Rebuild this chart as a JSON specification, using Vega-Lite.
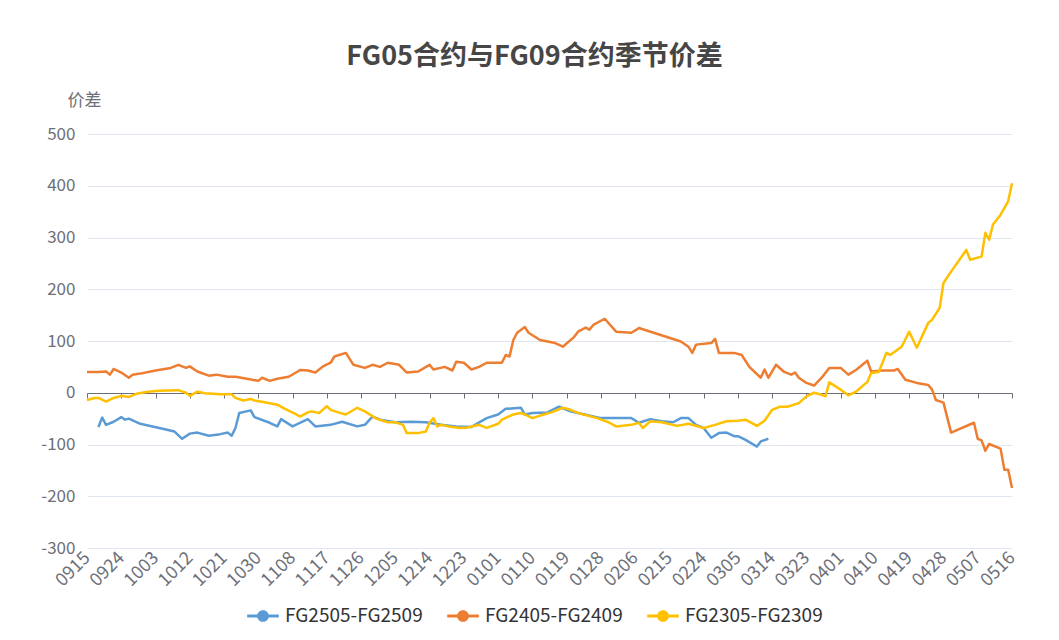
{
  "$schema": "https://vega.github.io/schema/vega-lite/v6.json",
  "width": 925,
  "height": 414,
  "autosize": {"type": "none"},
  "padding": {"left": 87, "top": 134, "right": 47, "bottom": 92},
  "background": "white",
  "config": {"font": "Noto Sans CJK SC", "view": {"stroke": null}},
  "title": {"text": "FG05合约与FG09合约季节价差", "anchor": "middle", "frame": "group", "dx": -15, "fontSize": 27, "fontWeight": "bold", "color": "#464646", "offset": 20},
  "data": {"values": [
    {"d":"2022-09-18","s":"FG2505-FG2509","v":-66},{"d":"2022-09-19","s":"FG2505-FG2509","v":-48},{"d":"2022-09-20","s":"FG2505-FG2509","v":-62},{"d":"2022-09-22","s":"FG2505-FG2509","v":-56},{"d":"2022-09-24","s":"FG2505-FG2509","v":-47},{"d":"2022-09-25","s":"FG2505-FG2509","v":-52},{"d":"2022-09-26","s":"FG2505-FG2509","v":-50},{"d":"2022-09-29","s":"FG2505-FG2509","v":-60},{"d":"2022-10-04","s":"FG2505-FG2509","v":-68},{"d":"2022-10-08","s":"FG2505-FG2509","v":-75},{"d":"2022-10-10","s":"FG2505-FG2509","v":-89},{"d":"2022-10-12","s":"FG2505-FG2509","v":-79},{"d":"2022-10-14","s":"FG2505-FG2509","v":-77},{"d":"2022-10-17","s":"FG2505-FG2509","v":-83},{"d":"2022-10-20","s":"FG2505-FG2509","v":-80},{"d":"2022-10-22","s":"FG2505-FG2509","v":-77},{"d":"2022-10-23","s":"FG2505-FG2509","v":-83},{"d":"2022-10-24","s":"FG2505-FG2509","v":-68},{"d":"2022-10-25","s":"FG2505-FG2509","v":-39},{"d":"2022-10-28","s":"FG2505-FG2509","v":-34},{"d":"2022-10-29","s":"FG2505-FG2509","v":-47},{"d":"2022-11-02","s":"FG2505-FG2509","v":-58},{"d":"2022-11-04","s":"FG2505-FG2509","v":-65},{"d":"2022-11-05","s":"FG2505-FG2509","v":-51},{"d":"2022-11-08","s":"FG2505-FG2509","v":-65},{"d":"2022-11-12","s":"FG2505-FG2509","v":-51},{"d":"2022-11-14","s":"FG2505-FG2509","v":-65},{"d":"2022-11-18","s":"FG2505-FG2509","v":-62},{"d":"2022-11-21","s":"FG2505-FG2509","v":-56},{"d":"2022-11-25","s":"FG2505-FG2509","v":-65},{"d":"2022-11-27","s":"FG2505-FG2509","v":-62},{"d":"2022-11-29","s":"FG2505-FG2509","v":-46},{"d":"2022-12-01","s":"FG2505-FG2509","v":-52},{"d":"2022-12-05","s":"FG2505-FG2509","v":-57},{"d":"2022-12-09","s":"FG2505-FG2509","v":-56},{"d":"2022-12-13","s":"FG2505-FG2509","v":-57},{"d":"2022-12-17","s":"FG2505-FG2509","v":-62},{"d":"2022-12-21","s":"FG2505-FG2509","v":-65},{"d":"2022-12-25","s":"FG2505-FG2509","v":-66},{"d":"2022-12-29","s":"FG2505-FG2509","v":-49},{"d":"2023-01-01","s":"FG2505-FG2509","v":-42},{"d":"2023-01-03","s":"FG2505-FG2509","v":-31},{"d":"2023-01-07","s":"FG2505-FG2509","v":-29},{"d":"2023-01-08","s":"FG2505-FG2509","v":-42},{"d":"2023-01-10","s":"FG2505-FG2509","v":-39},{"d":"2023-01-14","s":"FG2505-FG2509","v":-38},{"d":"2023-01-17","s":"FG2505-FG2509","v":-27},{"d":"2023-01-20","s":"FG2505-FG2509","v":-36},{"d":"2023-01-22","s":"FG2505-FG2509","v":-39},{"d":"2023-01-28","s":"FG2505-FG2509","v":-49},{"d":"2023-02-05","s":"FG2505-FG2509","v":-49},{"d":"2023-02-07","s":"FG2505-FG2509","v":-58},{"d":"2023-02-10","s":"FG2505-FG2509","v":-51},{"d":"2023-02-13","s":"FG2505-FG2509","v":-55},{"d":"2023-02-16","s":"FG2505-FG2509","v":-57},{"d":"2023-02-18","s":"FG2505-FG2509","v":-49},{"d":"2023-02-20","s":"FG2505-FG2509","v":-49},{"d":"2023-02-22","s":"FG2505-FG2509","v":-62},{"d":"2023-02-24","s":"FG2505-FG2509","v":-68},{"d":"2023-02-26","s":"FG2505-FG2509","v":-87},{"d":"2023-02-28","s":"FG2505-FG2509","v":-78},{"d":"2023-03-02","s":"FG2505-FG2509","v":-77},{"d":"2023-03-04","s":"FG2505-FG2509","v":-84},{"d":"2023-03-05","s":"FG2505-FG2509","v":-84},{"d":"2023-03-07","s":"FG2505-FG2509","v":-91},{"d":"2023-03-10","s":"FG2505-FG2509","v":-104},{"d":"2023-03-11","s":"FG2505-FG2509","v":-94},{"d":"2023-03-13","s":"FG2505-FG2509","v":-89},
    {"d":"2022-09-15","s":"FG2405-FG2409","v":40},{"d":"2022-09-18","s":"FG2405-FG2409","v":40},{"d":"2022-09-20","s":"FG2405-FG2409","v":41},{"d":"2022-09-21","s":"FG2405-FG2409","v":35},{"d":"2022-09-22","s":"FG2405-FG2409","v":46},{"d":"2022-09-24","s":"FG2405-FG2409","v":39},{"d":"2022-09-26","s":"FG2405-FG2409","v":29},{"d":"2022-09-27","s":"FG2405-FG2409","v":35},{"d":"2022-09-29","s":"FG2405-FG2409","v":37},{"d":"2022-10-03","s":"FG2405-FG2409","v":43},{"d":"2022-10-07","s":"FG2405-FG2409","v":48},{"d":"2022-10-09","s":"FG2405-FG2409","v":54},{"d":"2022-10-11","s":"FG2405-FG2409","v":48},{"d":"2022-10-12","s":"FG2405-FG2409","v":51},{"d":"2022-10-14","s":"FG2405-FG2409","v":41},{"d":"2022-10-17","s":"FG2405-FG2409","v":33},{"d":"2022-10-19","s":"FG2405-FG2409","v":35},{"d":"2022-10-22","s":"FG2405-FG2409","v":31},{"d":"2022-10-24","s":"FG2405-FG2409","v":31},{"d":"2022-10-27","s":"FG2405-FG2409","v":27},{"d":"2022-10-30","s":"FG2405-FG2409","v":23},{"d":"2022-10-31","s":"FG2405-FG2409","v":29},{"d":"2022-11-02","s":"FG2405-FG2409","v":23},{"d":"2022-11-04","s":"FG2405-FG2409","v":27},{"d":"2022-11-07","s":"FG2405-FG2409","v":31},{"d":"2022-11-10","s":"FG2405-FG2409","v":44},{"d":"2022-11-12","s":"FG2405-FG2409","v":43},{"d":"2022-11-14","s":"FG2405-FG2409","v":39},{"d":"2022-11-16","s":"FG2405-FG2409","v":51},{"d":"2022-11-18","s":"FG2405-FG2409","v":58},{"d":"2022-11-19","s":"FG2405-FG2409","v":70},{"d":"2022-11-22","s":"FG2405-FG2409","v":77},{"d":"2022-11-24","s":"FG2405-FG2409","v":54},{"d":"2022-11-27","s":"FG2405-FG2409","v":48},{"d":"2022-11-29","s":"FG2405-FG2409","v":54},{"d":"2022-12-01","s":"FG2405-FG2409","v":50},{"d":"2022-12-03","s":"FG2405-FG2409","v":58},{"d":"2022-12-06","s":"FG2405-FG2409","v":54},{"d":"2022-12-08","s":"FG2405-FG2409","v":39},{"d":"2022-12-11","s":"FG2405-FG2409","v":41},{"d":"2022-12-14","s":"FG2405-FG2409","v":54},{"d":"2022-12-15","s":"FG2405-FG2409","v":45},{"d":"2022-12-18","s":"FG2405-FG2409","v":50},{"d":"2022-12-20","s":"FG2405-FG2409","v":43},{"d":"2022-12-21","s":"FG2405-FG2409","v":60},{"d":"2022-12-23","s":"FG2405-FG2409","v":58},{"d":"2022-12-25","s":"FG2405-FG2409","v":45},{"d":"2022-12-27","s":"FG2405-FG2409","v":50},{"d":"2022-12-29","s":"FG2405-FG2409","v":58},{"d":"2023-01-02","s":"FG2405-FG2409","v":58},{"d":"2023-01-03","s":"FG2405-FG2409","v":73},{"d":"2023-01-04","s":"FG2405-FG2409","v":70},{"d":"2023-01-05","s":"FG2405-FG2409","v":102},{"d":"2023-01-06","s":"FG2405-FG2409","v":116},{"d":"2023-01-08","s":"FG2405-FG2409","v":127},{"d":"2023-01-09","s":"FG2405-FG2409","v":116},{"d":"2023-01-12","s":"FG2405-FG2409","v":102},{"d":"2023-01-16","s":"FG2405-FG2409","v":96},{"d":"2023-01-18","s":"FG2405-FG2409","v":89},{"d":"2023-01-21","s":"FG2405-FG2409","v":108},{"d":"2023-01-22","s":"FG2405-FG2409","v":118},{"d":"2023-01-24","s":"FG2405-FG2409","v":126},{"d":"2023-01-25","s":"FG2405-FG2409","v":122},{"d":"2023-01-26","s":"FG2405-FG2409","v":131},{"d":"2023-01-29","s":"FG2405-FG2409","v":143},{"d":"2023-02-01","s":"FG2405-FG2409","v":118},{"d":"2023-02-05","s":"FG2405-FG2409","v":116},{"d":"2023-02-07","s":"FG2405-FG2409","v":125},{"d":"2023-02-18","s":"FG2405-FG2409","v":99},{"d":"2023-02-20","s":"FG2405-FG2409","v":89},{"d":"2023-02-21","s":"FG2405-FG2409","v":77},{"d":"2023-02-22","s":"FG2405-FG2409","v":93},{"d":"2023-02-26","s":"FG2405-FG2409","v":96},{"d":"2023-02-27","s":"FG2405-FG2409","v":104},{"d":"2023-02-28","s":"FG2405-FG2409","v":77},{"d":"2023-03-04","s":"FG2405-FG2409","v":77},{"d":"2023-03-06","s":"FG2405-FG2409","v":73},{"d":"2023-03-08","s":"FG2405-FG2409","v":50},{"d":"2023-03-11","s":"FG2405-FG2409","v":29},{"d":"2023-03-12","s":"FG2405-FG2409","v":45},{"d":"2023-03-13","s":"FG2405-FG2409","v":29},{"d":"2023-03-15","s":"FG2405-FG2409","v":54},{"d":"2023-03-17","s":"FG2405-FG2409","v":41},{"d":"2023-03-19","s":"FG2405-FG2409","v":35},{"d":"2023-03-20","s":"FG2405-FG2409","v":39},{"d":"2023-03-21","s":"FG2405-FG2409","v":29},{"d":"2023-03-23","s":"FG2405-FG2409","v":19},{"d":"2023-03-25","s":"FG2405-FG2409","v":14},{"d":"2023-03-27","s":"FG2405-FG2409","v":29},{"d":"2023-03-29","s":"FG2405-FG2409","v":48},{"d":"2023-04-01","s":"FG2405-FG2409","v":48},{"d":"2023-04-03","s":"FG2405-FG2409","v":35},{"d":"2023-04-05","s":"FG2405-FG2409","v":44},{"d":"2023-04-08","s":"FG2405-FG2409","v":62},{"d":"2023-04-09","s":"FG2405-FG2409","v":41},{"d":"2023-04-12","s":"FG2405-FG2409","v":43},{"d":"2023-04-15","s":"FG2405-FG2409","v":43},{"d":"2023-04-16","s":"FG2405-FG2409","v":46},{"d":"2023-04-18","s":"FG2405-FG2409","v":25},{"d":"2023-04-21","s":"FG2405-FG2409","v":19},{"d":"2023-04-24","s":"FG2405-FG2409","v":15},{"d":"2023-04-25","s":"FG2405-FG2409","v":6},{"d":"2023-04-26","s":"FG2405-FG2409","v":-14},{"d":"2023-04-28","s":"FG2405-FG2409","v":-19},{"d":"2023-04-30","s":"FG2405-FG2409","v":-77},{"d":"2023-05-06","s":"FG2405-FG2409","v":-58},{"d":"2023-05-07","s":"FG2405-FG2409","v":-89},{"d":"2023-05-08","s":"FG2405-FG2409","v":-92},{"d":"2023-05-09","s":"FG2405-FG2409","v":-112},{"d":"2023-05-10","s":"FG2405-FG2409","v":-99},{"d":"2023-05-13","s":"FG2405-FG2409","v":-108},{"d":"2023-05-14","s":"FG2405-FG2409","v":-149},{"d":"2023-05-15","s":"FG2405-FG2409","v":-149},{"d":"2023-05-16","s":"FG2405-FG2409","v":-184},
    {"d":"2022-09-15","s":"FG2305-FG2309","v":-14},{"d":"2022-09-17","s":"FG2305-FG2309","v":-10},{"d":"2022-09-18","s":"FG2305-FG2309","v":-10},{"d":"2022-09-20","s":"FG2305-FG2309","v":-17},{"d":"2022-09-22","s":"FG2305-FG2309","v":-10},{"d":"2022-09-24","s":"FG2305-FG2309","v":-6},{"d":"2022-09-26","s":"FG2305-FG2309","v":-8},{"d":"2022-09-28","s":"FG2305-FG2309","v":-2},{"d":"2022-10-01","s":"FG2305-FG2309","v":2},{"d":"2022-10-04","s":"FG2305-FG2309","v":4},{"d":"2022-10-09","s":"FG2305-FG2309","v":5},{"d":"2022-10-11","s":"FG2305-FG2309","v":0},{"d":"2022-10-12","s":"FG2305-FG2309","v":-6},{"d":"2022-10-14","s":"FG2305-FG2309","v":2},{"d":"2022-10-16","s":"FG2305-FG2309","v":-1},{"d":"2022-10-20","s":"FG2305-FG2309","v":-3},{"d":"2022-10-23","s":"FG2305-FG2309","v":-3},{"d":"2022-10-24","s":"FG2305-FG2309","v":-10},{"d":"2022-10-26","s":"FG2305-FG2309","v":-15},{"d":"2022-10-28","s":"FG2305-FG2309","v":-12},{"d":"2022-10-29","s":"FG2305-FG2309","v":-15},{"d":"2022-11-01","s":"FG2305-FG2309","v":-19},{"d":"2022-11-04","s":"FG2305-FG2309","v":-23},{"d":"2022-11-06","s":"FG2305-FG2309","v":-31},{"d":"2022-11-09","s":"FG2305-FG2309","v":-42},{"d":"2022-11-10","s":"FG2305-FG2309","v":-46},{"d":"2022-11-12","s":"FG2305-FG2309","v":-38},{"d":"2022-11-13","s":"FG2305-FG2309","v":-36},{"d":"2022-11-15","s":"FG2305-FG2309","v":-39},{"d":"2022-11-17","s":"FG2305-FG2309","v":-26},{"d":"2022-11-18","s":"FG2305-FG2309","v":-33},{"d":"2022-11-20","s":"FG2305-FG2309","v":-38},{"d":"2022-11-22","s":"FG2305-FG2309","v":-42},{"d":"2022-11-25","s":"FG2305-FG2309","v":-29},{"d":"2022-11-27","s":"FG2305-FG2309","v":-36},{"d":"2022-11-30","s":"FG2305-FG2309","v":-50},{"d":"2022-12-03","s":"FG2305-FG2309","v":-57},{"d":"2022-12-05","s":"FG2305-FG2309","v":-57},{"d":"2022-12-07","s":"FG2305-FG2309","v":-62},{"d":"2022-12-08","s":"FG2305-FG2309","v":-78},{"d":"2022-12-11","s":"FG2305-FG2309","v":-78},{"d":"2022-12-13","s":"FG2305-FG2309","v":-75},{"d":"2022-12-14","s":"FG2305-FG2309","v":-58},{"d":"2022-12-15","s":"FG2305-FG2309","v":-49},{"d":"2022-12-16","s":"FG2305-FG2309","v":-65},{"d":"2022-12-17","s":"FG2305-FG2309","v":-62},{"d":"2022-12-19","s":"FG2305-FG2309","v":-65},{"d":"2022-12-22","s":"FG2305-FG2309","v":-68},{"d":"2022-12-24","s":"FG2305-FG2309","v":-67},{"d":"2022-12-27","s":"FG2305-FG2309","v":-62},{"d":"2022-12-29","s":"FG2305-FG2309","v":-68},{"d":"2023-01-01","s":"FG2305-FG2309","v":-60},{"d":"2023-01-02","s":"FG2305-FG2309","v":-52},{"d":"2023-01-05","s":"FG2305-FG2309","v":-42},{"d":"2023-01-07","s":"FG2305-FG2309","v":-39},{"d":"2023-01-08","s":"FG2305-FG2309","v":-42},{"d":"2023-01-10","s":"FG2305-FG2309","v":-49},{"d":"2023-01-13","s":"FG2305-FG2309","v":-42},{"d":"2023-01-15","s":"FG2305-FG2309","v":-38},{"d":"2023-01-18","s":"FG2305-FG2309","v":-29},{"d":"2023-01-20","s":"FG2305-FG2309","v":-33},{"d":"2023-01-22","s":"FG2305-FG2309","v":-39},{"d":"2023-01-27","s":"FG2305-FG2309","v":-49},{"d":"2023-01-30","s":"FG2305-FG2309","v":-57},{"d":"2023-02-01","s":"FG2305-FG2309","v":-65},{"d":"2023-02-05","s":"FG2305-FG2309","v":-62},{"d":"2023-02-07","s":"FG2305-FG2309","v":-58},{"d":"2023-02-08","s":"FG2305-FG2309","v":-68},{"d":"2023-02-10","s":"FG2305-FG2309","v":-55},{"d":"2023-02-13","s":"FG2305-FG2309","v":-57},{"d":"2023-02-17","s":"FG2305-FG2309","v":-64},{"d":"2023-02-20","s":"FG2305-FG2309","v":-60},{"d":"2023-02-24","s":"FG2305-FG2309","v":-68},{"d":"2023-02-27","s":"FG2305-FG2309","v":-62},{"d":"2023-03-02","s":"FG2305-FG2309","v":-55},{"d":"2023-03-05","s":"FG2305-FG2309","v":-54},{"d":"2023-03-07","s":"FG2305-FG2309","v":-52},{"d":"2023-03-10","s":"FG2305-FG2309","v":-64},{"d":"2023-03-12","s":"FG2305-FG2309","v":-54},{"d":"2023-03-14","s":"FG2305-FG2309","v":-33},{"d":"2023-03-16","s":"FG2305-FG2309","v":-27},{"d":"2023-03-18","s":"FG2305-FG2309","v":-27},{"d":"2023-03-21","s":"FG2305-FG2309","v":-20},{"d":"2023-03-23","s":"FG2305-FG2309","v":-7},{"d":"2023-03-25","s":"FG2305-FG2309","v":0},{"d":"2023-03-27","s":"FG2305-FG2309","v":-4},{"d":"2023-03-28","s":"FG2305-FG2309","v":-7},{"d":"2023-03-29","s":"FG2305-FG2309","v":20},{"d":"2023-04-01","s":"FG2305-FG2309","v":6},{"d":"2023-04-03","s":"FG2305-FG2309","v":-5},{"d":"2023-04-05","s":"FG2305-FG2309","v":2},{"d":"2023-04-08","s":"FG2305-FG2309","v":21},{"d":"2023-04-09","s":"FG2305-FG2309","v":38},{"d":"2023-04-11","s":"FG2305-FG2309","v":40},{"d":"2023-04-13","s":"FG2305-FG2309","v":77},{"d":"2023-04-14","s":"FG2305-FG2309","v":73},{"d":"2023-04-17","s":"FG2305-FG2309","v":89},{"d":"2023-04-19","s":"FG2305-FG2309","v":118},{"d":"2023-04-21","s":"FG2305-FG2309","v":87},{"d":"2023-04-24","s":"FG2305-FG2309","v":135},{"d":"2023-04-25","s":"FG2305-FG2309","v":141},{"d":"2023-04-27","s":"FG2305-FG2309","v":164},{"d":"2023-04-28","s":"FG2305-FG2309","v":212},{"d":"2023-04-30","s":"FG2305-FG2309","v":234},{"d":"2023-05-04","s":"FG2305-FG2309","v":276},{"d":"2023-05-05","s":"FG2305-FG2309","v":257},{"d":"2023-05-08","s":"FG2305-FG2309","v":263},{"d":"2023-05-09","s":"FG2305-FG2309","v":309},{"d":"2023-05-10","s":"FG2305-FG2309","v":296},{"d":"2023-05-11","s":"FG2305-FG2309","v":325},{"d":"2023-05-13","s":"FG2305-FG2309","v":344},{"d":"2023-05-15","s":"FG2305-FG2309","v":370},{"d":"2023-05-16","s":"FG2305-FG2309","v":405}
  ]},
  "mark": {"type": "line", "strokeWidth": 2.5, "interpolate": "linear", "strokeJoin": "round"},
  "encoding": {
    "x": {"field": "d", "type": "temporal",
      "scale": {"type": "utc", "domain": [{"year": 2022, "month": 9, "date": 15, "utc": true}, {"year": 2023, "month": 5, "date": 16, "utc": true}]},
      "axis": {"title": null, "grid": false, "labelExpr": "utcFormat(datum.value, '%m%d')",
        "values": [
          {"year":2022,"month":9,"date":15,"utc":true},{"year":2022,"month":9,"date":24,"utc":true},{"year":2022,"month":10,"date":3,"utc":true},{"year":2022,"month":10,"date":12,"utc":true},{"year":2022,"month":10,"date":21,"utc":true},{"year":2022,"month":10,"date":30,"utc":true},{"year":2022,"month":11,"date":8,"utc":true},{"year":2022,"month":11,"date":17,"utc":true},{"year":2022,"month":11,"date":26,"utc":true},{"year":2022,"month":12,"date":5,"utc":true},{"year":2022,"month":12,"date":14,"utc":true},{"year":2022,"month":12,"date":23,"utc":true},{"year":2023,"month":1,"date":1,"utc":true},{"year":2023,"month":1,"date":10,"utc":true},{"year":2023,"month":1,"date":19,"utc":true},{"year":2023,"month":1,"date":28,"utc":true},{"year":2023,"month":2,"date":6,"utc":true},{"year":2023,"month":2,"date":15,"utc":true},{"year":2023,"month":2,"date":24,"utc":true},{"year":2023,"month":3,"date":5,"utc":true},{"year":2023,"month":3,"date":14,"utc":true},{"year":2023,"month":3,"date":23,"utc":true},{"year":2023,"month":4,"date":1,"utc":true},{"year":2023,"month":4,"date":10,"utc":true},{"year":2023,"month":4,"date":19,"utc":true},{"year":2023,"month":4,"date":28,"utc":true},{"year":2023,"month":5,"date":7,"utc":true},{"year":2023,"month":5,"date":16,"utc":true}
        ],
        "offset": -155, "domainColor": "#6E7079", "domainWidth": 1, "tickColor": "#6E7079", "tickSize": 5,
        "labelAngle": -45, "labelAlign": "right", "labelBaseline": "middle", "labelPadding": 157,
        "labelFontSize": 18, "labelColor": "#6E7079", "labelOverlap": false, "labelBound": false, "labelFlush": false}
    },
    "y": {"field": "v", "type": "quantitative",
      "scale": {"domain": [-300, 500], "nice": false, "zero": false},
      "axis": {"title": "价差", "titleAngle": 0, "titleAlign": "left", "titleBaseline": "middle", "titleX": -20, "titleY": -34,
        "titleFontSize": 17, "titleFontWeight": "normal", "titleColor": "#6E7079",
        "values": [-300, -200, -100, 0, 100, 200, 300, 400, 500], "labelExpr": "datum.value + ''",
        "labelFontSize": 17, "labelColor": "#6E7079", "labelPadding": 12, "domain": false, "ticks": false, "gridColor": "#E0E6F1", "gridWidth": 1}
    },
    "color": {"field": "s", "type": "nominal",
      "scale": {"domain": ["FG2505-FG2509", "FG2405-FG2409", "FG2305-FG2309"], "range": ["#5B9BD5", "#ED7D31", "#FFC000"]},
      "legend": {"title": null, "orient": "none", "direction": "horizontal", "legendX": 160, "legendY": 466,
        "symbolType": "M-1,-0.1H1V0.1H-1Z M0.37,0A0.37,0.37 0 1,1 -0.37,0A0.37,0.37 0 1,1 0.37,0Z",
        "symbolSize": 1000, "symbolStrokeWidth": 0, "labelFontSize": 19, "labelColor": "#333333", "labelOffset": 6, "columnPadding": 24,
        "encode": {"symbols": {"update": {"fill": {"scale": "color", "field": "value"}, "strokeWidth": {"value": 0}, "opacity": {"value": 1}}}}}
    }
  }
}
